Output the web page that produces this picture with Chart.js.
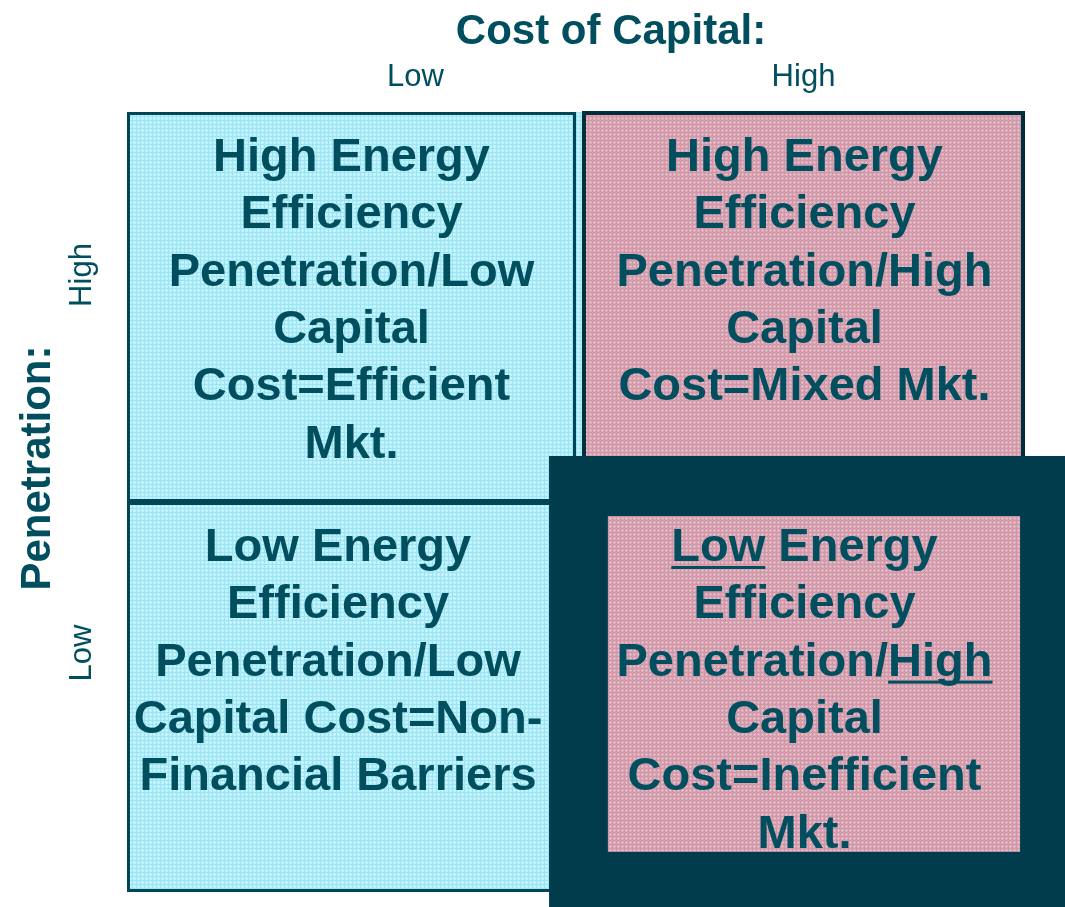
<!DOCTYPE html>
<html lang="en">
<head>
  <meta charset="UTF-8" />
  <title>Cost of Capital vs Penetration</title>
  <script src="https://cdn.jsdelivr.net/npm/chart.js"></script>
  <style>
    * { box-sizing: border-box; }
    body { margin: 0; background: #fff; }
    #wrap { width: 1065px; height: 907px; }
  </style>
</head>
<body>
  <div id="wrap"><canvas id="matrix" width="1065" height="907"></canvas></div>

  <script>
    // categories
    const costLevels = ['Low', 'High'];          // x axis: Cost of Capital
    const penetrationLevels = ['Low', 'High'];   // y axis: Penetration
    const xTitle = 'Cost of Capital:';
    const yTitle = 'Penetration:';

    // cells: [x index, y index]; _word_ marks underlined text
    const cellPos = [[0, 1], [1, 1], [0, 0], [1, 0]];
    const cellKind = ['efficient', 'mixed', 'efficient', 'highlight'];
    const cellLines = [
      ['High Energy', 'Efficiency', 'Penetration/Low', 'Capital', 'Cost=Efficient', 'Mkt.'],
      ['High Energy', 'Efficiency', 'Penetration/High', 'Capital', 'Cost=Mixed Mkt.'],
      ['Low Energy', 'Efficiency', 'Penetration/Low', 'Capital Cost=Non-', 'Financial Barriers'],
      ['_Low_ Energy', 'Efficiency', 'Penetration/_High_', 'Capital', 'Cost=Inefficient', 'Mkt.']
    ];

    const TEXT = '#004e5e';
    const DARK = '#003c4c';
    const FONT = '"Liberation Sans", Arial, sans-serif';

    function pattern(ctx, size, base, line, dot) {
      const c = document.createElement('canvas');
      c.width = c.height = size;
      const g = c.getContext('2d');
      g.fillStyle = base; g.fillRect(0, 0, size, size);
      g.fillStyle = line;
      g.fillRect(0, 0, size, 1);
      g.fillRect(0, 0, 1, size);
      g.fillStyle = dot;
      g.fillRect(2, 2, 1, 1);
      return ctx.createPattern(c, 'repeat');
    }

    function drawLine(ctx, text, cx, baseline) {
      const parts = text.split('_');
      const plain = parts.join('');
      let x = cx - ctx.measureText(plain).width / 2;
      ctx.textAlign = 'left';
      parts.forEach((p, i) => {
        if (!p) return;
        ctx.fillText(p, x, baseline);
        const w = ctx.measureText(p).width;
        if (i % 2 === 1) ctx.fillRect(x, baseline + 5, w, 3);
        x += w;
      });
    }

    const matrixPlugin = {
      id: 'matrix',
      beforeDatasetsDraw(chart) {
        const { ctx, scales: { x, y } } = chart;
        const cyan = pattern(ctx, 4, '#bdf1fa', '#9ae6f6', '#e4fbfe');
        const pink = pattern(ctx, 4, '#e4a3b1', '#cb9bac', '#c8ecf4');
        const rect = (x0, y0, x1, y1) => {
          const l = x.getPixelForValue(x0), r = x.getPixelForValue(x1);
          const t = y.getPixelForValue(y1), b = y.getPixelForValue(y0);
          return [l, t, r - l, b - t];
        };
        ctx.save();
        cellPos.forEach(([cx, cy], i) => {
          if (cellKind[i] === 'highlight') return;
          let [l, t, w, h] = rect(cx, cy, cx + 1, cy + 1);
          const mixed = cellKind[i] === 'mixed';
          if (mixed) { l += 6; w -= 6; }
          ctx.fillStyle = mixed ? pink : cyan;
          ctx.fillRect(l, t, w + (mixed ? 0 : 6), h);
          ctx.lineWidth = mixed ? 4 : 3;
          ctx.strokeStyle = mixed ? '#002e3a' : '#004656';
          const o = ctx.lineWidth / 2;
          ctx.strokeRect(l + o, t + o - (mixed ? 1 : 0), w - 2 * o, h - 2 * o);
        });
        // highlighted cell: dark frame with inner pink panel
        cellPos.forEach(([cx, cy], i) => {
          if (cellKind[i] !== 'highlight') return;
          let [l, t, w, h] = rect(cx - 0.06, cy - 0.04, cx + 1.1, cy + 1.118);
          ctx.fillStyle = DARK;
          ctx.fillRect(l, t, w, h);
          [l, t, w, h] = rect(cx + 0.071, cy + 0.103, cx + 0.989, cy + 0.964);
          ctx.fillStyle = pink;
          ctx.fillRect(l, t, w, h);
        });

        // cell texts
        ctx.fillStyle = TEXT;
        ctx.font = 'bold 47px ' + FONT;
        cellPos.forEach(([cx, cy], i) => {
          let left = x.getPixelForValue(cx), right = x.getPixelForValue(cx + 1);
          if (cellKind[i] === 'efficient' && cy === 0) right = x.getPixelForValue(cx + 0.94);
          if (cx === 1) left += 8;
          const mid = (left + right) / 2;
          const top = y.getPixelForValue(cy + 1);
          cellLines[i].forEach((ln, k) => drawLine(ctx, ln, mid, top + 59 + k * 57.3));
        });

        // axis titles and category labels
        ctx.textAlign = 'center';
        ctx.font = 'bold 42px ' + FONT;
        ctx.fillText(xTitle, x.getPixelForValue(1) + 35, 44);
        ctx.font = '31px ' + FONT;
        const xLabelShift = [64, 3];
        costLevels.forEach((lab, i) => {
          ctx.fillText(lab, x.getPixelForValue(i + 0.5) + xLabelShift[i], 86);
        });
        const yLabelShift = [-44, -32];
        ctx.save();
        ctx.rotate(-Math.PI / 2);
        penetrationLevels.forEach((lab, i) => {
          ctx.fillText(lab, -(y.getPixelForValue(i + 0.5) + yLabelShift[i]), 91);
        });
        ctx.font = 'bold 42px ' + FONT;
        ctx.fillText(yTitle, -468, 50);
        ctx.restore();
        ctx.restore();
      }
    };

    new Chart(document.getElementById('matrix'), {
      type: 'scatter',
      data: { datasets: [] },
      options: {
        responsive: false,
        animation: false,
        devicePixelRatio: 1,
        layout: { padding: { left: 127, top: 112, right: 40, bottom: 15 } },
        scales: {
          x: { type: 'linear', min: 0, max: 2, display: false },
          y: { type: 'linear', min: 0, max: 2, display: false }
        },
        plugins: { legend: { display: false }, tooltip: { enabled: false } }
      },
      plugins: [matrixPlugin]
    });
  </script>
</body>
</html>
